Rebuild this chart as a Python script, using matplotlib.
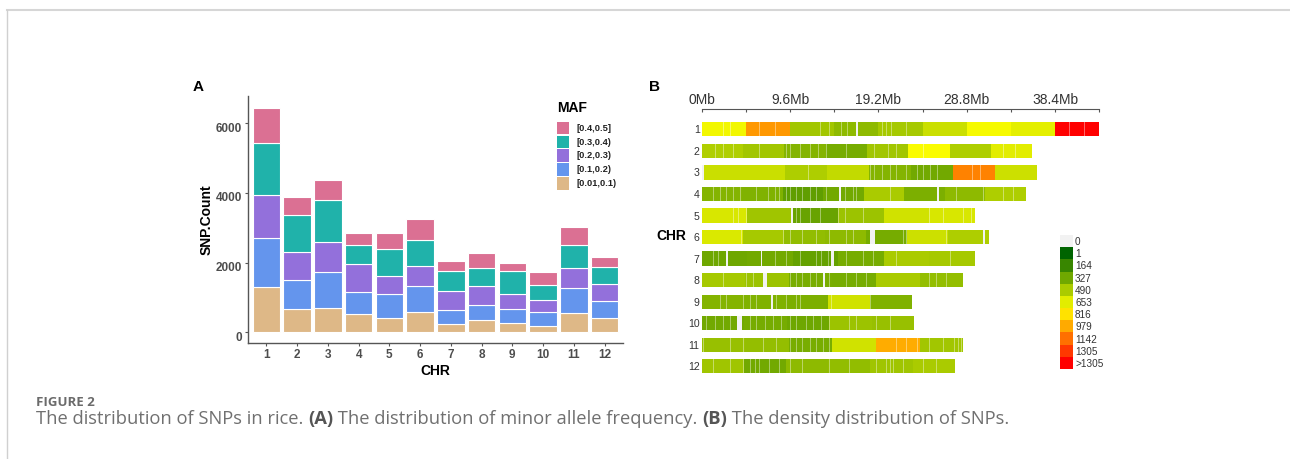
import numpy as np
import matplotlib
matplotlib.use("Agg")
import matplotlib.pyplot as plt
from matplotlib.colors import LinearSegmentedColormap, Normalize
from matplotlib.transforms import ScaledTranslation
from matplotlib.lines import Line2D

plt.rcParams['font.family'] = ['Liberation Sans', 'DejaVu Sans']

# ---- panel A data: SNP count per chromosome split by MAF class (bottom -> top)
chroms = [1, 2, 3, 4, 5, 6, 7, 8, 9, 10, 11, 12]
maf_labels = ['[0.01,0.1)', '[0.1,0.2)', '[0.2,0.3)', '[0.3,0.4)', '[0.4,0.5]']
maf_colors = ['#DEB887', '#6495ED', '#9370DB', '#20B2AA', '#DB7093']
maf_001_01 = [1309, 659, 688, 526, 420, 573, 229, 363, 277, 182, 545, 401]
maf_01_02 = [1386, 841, 1042, 640, 688, 755, 421, 421, 401, 391, 726, 507]
maf_02_03 = [1251, 812, 860, 793, 516, 574, 535, 554, 430, 363, 583, 478]
maf_03_04 = [1472, 1061, 1204, 535, 774, 745, 573, 516, 650, 411, 650, 487]
maf_04_05 = [1032, 497, 563, 363, 440, 611, 296, 411, 220, 373, 525, 287]

# ---- panel B data: chromosome length (Mb) and SNP count per window
chr_len = [43.2, 35.9, 36.4, 35.2, 29.7, 31.2, 29.7, 28.4, 22.9, 23.1, 28.4, 27.5]
dens_1 = [700, 1030, 470, 410, 480, 580, 710, 660, 1500]
dens_2 = [510, 470, 380, 340, 470, 720, 500, 650]
dens_3 = [580, 580, 500, 560, 380, 330, 1090, 590]
dens_4 = [380, 370, 280, 330, 490, 360, 410, 500]
dens_5 = [620, 460, 300, 450, 600, 620]
dens_6 = [630, 480, 420, 410, 340, 590, 500]
dens_7 = [320, 330, 290, 340, 490, 480]
dens_8 = [480, 450, 350, 340, 490, 430]
dens_9 = [380, 370, 360, 600, 370]
dens_10 = [330, 340, 320, 450, 440]
dens_11 = [440, 430, 350, 600, 970, 470]
dens_12 = [460, 330, 410, 420, 460, 490]

# thin pale stripes (sparse SNP positions, Mb)
stripes_1 = [2.35, 3.15, 6.3, 8.0, 12.9, 13.4, 13.9, 15.2, 15.8, 19.6, 20.1, 20.6, 22.3, 40.0, 41.6]
stripes_2 = [1.45, 2.35, 3.44, 6.3, 7.2, 9.2, 9.6, 10.7, 11.8, 12.7, 13.6, 15.75, 18.8, 20.3, 21.2, 24.1, 32.8, 34.1]
stripes_3 = [11.6, 13.4, 18.3, 18.8, 19.6, 20.5, 21.2, 22.3, 23.4, 24.1, 24.9, 25.6, 29.4, 30.3]
stripes_4 = [1.27, 2.0, 2.7, 3.44, 4.2, 6.0, 7.25, 7.97, 8.5, 9.24, 9.6, 10.3, 11.0, 11.8, 12.5,
             13.6, 14.7, 15.6, 16.5, 16.8, 20.5, 27.7, 30.6, 32.8, 33.9]
stripes_5 = [3.44, 4.0, 4.9, 10.3, 10.7, 11.8, 12.9, 14.85, 15.6, 17.6, 24.8, 26.3, 28.4, 29.3]
stripes_6 = [4.35, 8.87, 9.6, 11.0, 12.5, 13.9, 15.75, 16.5, 21.9, 22.3, 26.6]
stripes_7 = [1.27, 1.8, 6.5, 7.97, 9.2, 10.7, 12.5, 13.0, 13.8, 15.75, 17.57, 18.66, 21.2, 27.0]
stripes_8 = [2.35, 4.9, 5.6, 9.6, 10.3, 11.0, 11.8, 12.5, 13.9, 14.7, 15.75, 16.8, 17.9, 24.8, 25.5, 26.6]
stripes_9 = [0.9, 2.0, 2.7, 3.4, 4.5, 5.3, 6.0, 8.15, 9.2, 10.3, 10.7, 14.1, 18.3]
stripes_10 = [0.5, 1.45, 2.35, 3.1, 5.3, 6.0, 6.9, 7.8, 8.7, 9.6, 10.3, 11.4, 12.1, 13.0, 13.9,
              16.1, 16.8, 19.0, 20.5]
stripes_11 = [0.2, 0.9, 3.1, 4.5, 6.7, 8.15, 9.6, 10.3, 11.0, 11.8, 12.5, 13.2, 13.9, 14.7, 19.7,
              21.2, 22.3, 23.4, 24.8, 26.3, 27.5, 27.9, 28.2]
stripes_12 = [1.27, 3.1, 4.5, 5.3, 5.8, 6.3, 7.4, 8.5, 9.6, 11.0, 13.9, 16.1, 19.0, 20.1, 20.5,
              20.8, 21.9, 24.1, 25.5]

# regions without SNPs
blank_chr = [1, 3, 4, 4, 5, 6, 6, 7, 7, 7, 8, 8, 9, 10]
blank_start = [16.8, 0.0, 14.9, 25.6, 9.7, 18.3, 30.55, 2.6, 6.45, 14.1, 6.7, 13.15, 7.55, 3.8]
blank_end = [16.95, 0.2, 15.1, 25.8, 9.95, 18.8, 30.75, 2.9, 6.6, 14.4, 7.1, 13.4, 7.8, 4.35]

mb_ticks = [0, 9.6, 19.2, 28.8, 38.4]
legend_breaks = ['0', '1', '164', '327', '490', '653', '816', '979', '1142', '1305', '>1305']
legend_values = [0, 1, 164, 327, 490, 653, 816, 979, 1142, 1305, 1468]

caption_title = 'FIGURE 2'
caption_parts = [('The distribution of SNPs in rice. ', 'normal'),
                 ('(A)', 'bold'),
                 (' The distribution of minor allele frequency. ', 'normal'),
                 ('(B)', 'bold'),
                 (' The density distribution of SNPs.', 'normal')]

W, H = 1290, 459
fig = plt.figure(figsize=(W / 100, H / 100), dpi=100)


def box(left, top, right, bottom):
    return [left / W, 1 - bottom / H, (right - left) / W, (bottom - top) / H]


# page frame
fig.add_artist(Line2D([7 / W, 1], [1 - 10 / H, 1 - 10 / H], color='#d6d6d6', lw=1.5))
fig.add_artist(Line2D([7 / W, 7 / W], [0, 1 - 10 / H], color='#d0d0d0', lw=1.0))

# ================= panel A =================
axa = fig.add_axes(box(248, 96, 623, 343))
series = [maf_001_01, maf_01_02, maf_02_03, maf_03_04, maf_04_05]
bottom = np.zeros(len(chroms))
for vals, col, lab in zip(series, maf_colors, maf_labels):
    axa.bar(chroms, vals, bottom=bottom, width=0.9, color=col,
            edgecolor='white', linewidth=0.8, label=lab)
    bottom += np.array(vals)

axa.set_xlim(0.4, 12.6)
axa.set_ylim(-307, 6780)
axa.set_xticks(chroms)
axa.set_yticks([0, 2000, 4000, 6000])
for s in ['top', 'right']:
    axa.spines[s].set_visible(False)
for s in ['left', 'bottom']:
    axa.spines[s].set_color('#555555')
    axa.spines[s].set_linewidth(1.0)
axa.tick_params(axis='both', colors='#555555', length=2.5, width=0.8,
                labelsize=8.5, labelcolor='#4d4d4d', pad=2)
for lbl in axa.get_xticklabels() + axa.get_yticklabels():
    lbl.set_fontweight('bold')
for lbl in axa.get_yticklabels():
    lbl.set_transform(lbl.get_transform() + ScaledTranslation(0, -4 / 100, fig.dpi_scale_trans))
axa.set_xlabel('CHR', fontsize=10, fontweight='bold', labelpad=2)
axa.set_ylabel('SNP.Count', fontsize=10, fontweight='bold', labelpad=1.5)

fig.text(193 / W, 1 - 91 / H, 'A', fontsize=11, fontweight='bold', va='baseline')

# MAF legend (top class first)
fig.text(556.7 / W, 1 - 107.7 / H, 'MAF', fontsize=10, fontweight='bold', va='center')
for i, (col, lab) in enumerate(zip(maf_colors[::-1], maf_labels[::-1])):
    top = 121.7 + i * 13.85
    fig.add_artist(plt.Rectangle((556.7 / W, 1 - (top + 12.6) / H), 12.3 / W, 12.6 / H,
                                 facecolor=col, edgecolor='none', transform=fig.transFigure))
    fig.text(576.7 / W, 1 - (top + 6.5) / H, lab, fontsize=6.7, fontweight='bold',
             color='#222222', va='center')

# ================= panel B =================
cmap = LinearSegmentedColormap.from_list('dens', ['#006400', '#FFFF00', '#FF0000'])
norm = Normalize(1, 1468)
zero_col = '#F2F2F2'

axb = fig.add_axes(box(701.7, 109, 1099.3, 376))
all_dens = [dens_1, dens_2, dens_3, dens_4, dens_5, dens_6,
            dens_7, dens_8, dens_9, dens_10, dens_11, dens_12]
all_stripes = [stripes_1, stripes_2, stripes_3, stripes_4, stripes_5, stripes_6,
               stripes_7, stripes_8, stripes_9, stripes_10, stripes_11, stripes_12]
bar_h = 0.665
for c, length, dens, strp in zip(chroms, chr_len, all_dens, all_stripes):
    n = len(dens)
    step = length / n
    lefts = np.arange(n) * step
    cols = [cmap(norm(min(d, 1468))) for d in dens]
    axb.barh(np.full(n, c), step, left=lefts, height=bar_h, color=cols,
             edgecolor='none', linewidth=0)
    axb.barh(np.full(len(strp), c), 0.1, left=np.array(strp) - 0.05, height=bar_h,
             color='white', alpha=0.4, edgecolor='none', linewidth=0)

for c, s0, s1 in zip(blank_chr, blank_start, blank_end):
    axb.barh(c, s1 - s0, left=s0, height=bar_h, color=zero_col, edgecolor='none', linewidth=0)

axb.set_xlim(0, 43.2)
axb.set_ylim(12.45, 0.056)
axb.xaxis.tick_top()
axb.set_xticks(mb_ticks)
axb.set_xticklabels(['%gMb' % t for t in mb_ticks])
axb.set_xticks(np.arange(0, 43.3, 4.8), minor=True)
axb.tick_params(axis='x', which='both', direction='in', length=2.5, width=0.8,
                color='#555555', labelsize=10, labelcolor='#333333', pad=1.5)
axb.set_yticks(chroms)
axb.set_yticklabels([str(c) for c in chroms])
axb.tick_params(axis='y', length=0, labelsize=7.6, labelcolor='#333333', pad=1.5)
for s in ['left', 'right', 'bottom']:
    axb.spines[s].set_visible(False)
axb.spines['top'].set_color('#555555')
axb.spines['top'].set_linewidth(0.8)

fig.text(686.7 / W, 1 - 236 / H, 'CHR', fontsize=10, fontweight='bold', ha='right', va='center')
fig.text(649 / W, 1 - 91 / H, 'B', fontsize=11, fontweight='bold', va='baseline')

# density legend
axl = fig.add_axes(box(1060, 235, 1073, 369))
leg_cols = [zero_col] + [cmap(norm(v)) for v in legend_values[1:]]
axl.barh(np.arange(len(legend_values)), 1, left=0, height=1.0, color=leg_cols,
         edgecolor='none', linewidth=0)
axl.set_xlim(0, 1)
axl.set_ylim(len(legend_values) - 0.5, -0.5)
axl.yaxis.tick_right()
axl.set_yticks(np.arange(len(legend_values)))
axl.set_yticklabels(legend_breaks)
axl.set_xticks([])
axl.tick_params(axis='y', length=0, labelsize=7.2, labelcolor='#333333', pad=1.5)
for s in axl.spines.values():
    s.set_visible(False)

# ================= caption =================
cap_font = ['Open Sans', 'DejaVu Sans']
fig.text(36 / W, 1 - 406.5 / H, caption_title, fontsize=9.5, fontweight='bold',
         color='#6b6b6b', family=cap_font, va='baseline')
prev = fig.text(36 / W, 1 - 424 / H, caption_parts[0][0], fontsize=13.2,
                color='#707070', family=cap_font, va='baseline')
for txt, wt in caption_parts[1:]:
    prev = axa.annotate(txt, xy=(1, 0), xycoords=prev, va='bottom', ha='left',
                        fontsize=13.2, fontweight=wt, family=cap_font,
                        color='#555555' if wt == 'bold' else '#707070',
                        annotation_clip=False)

fig.savefig('out.png', dpi=100)
